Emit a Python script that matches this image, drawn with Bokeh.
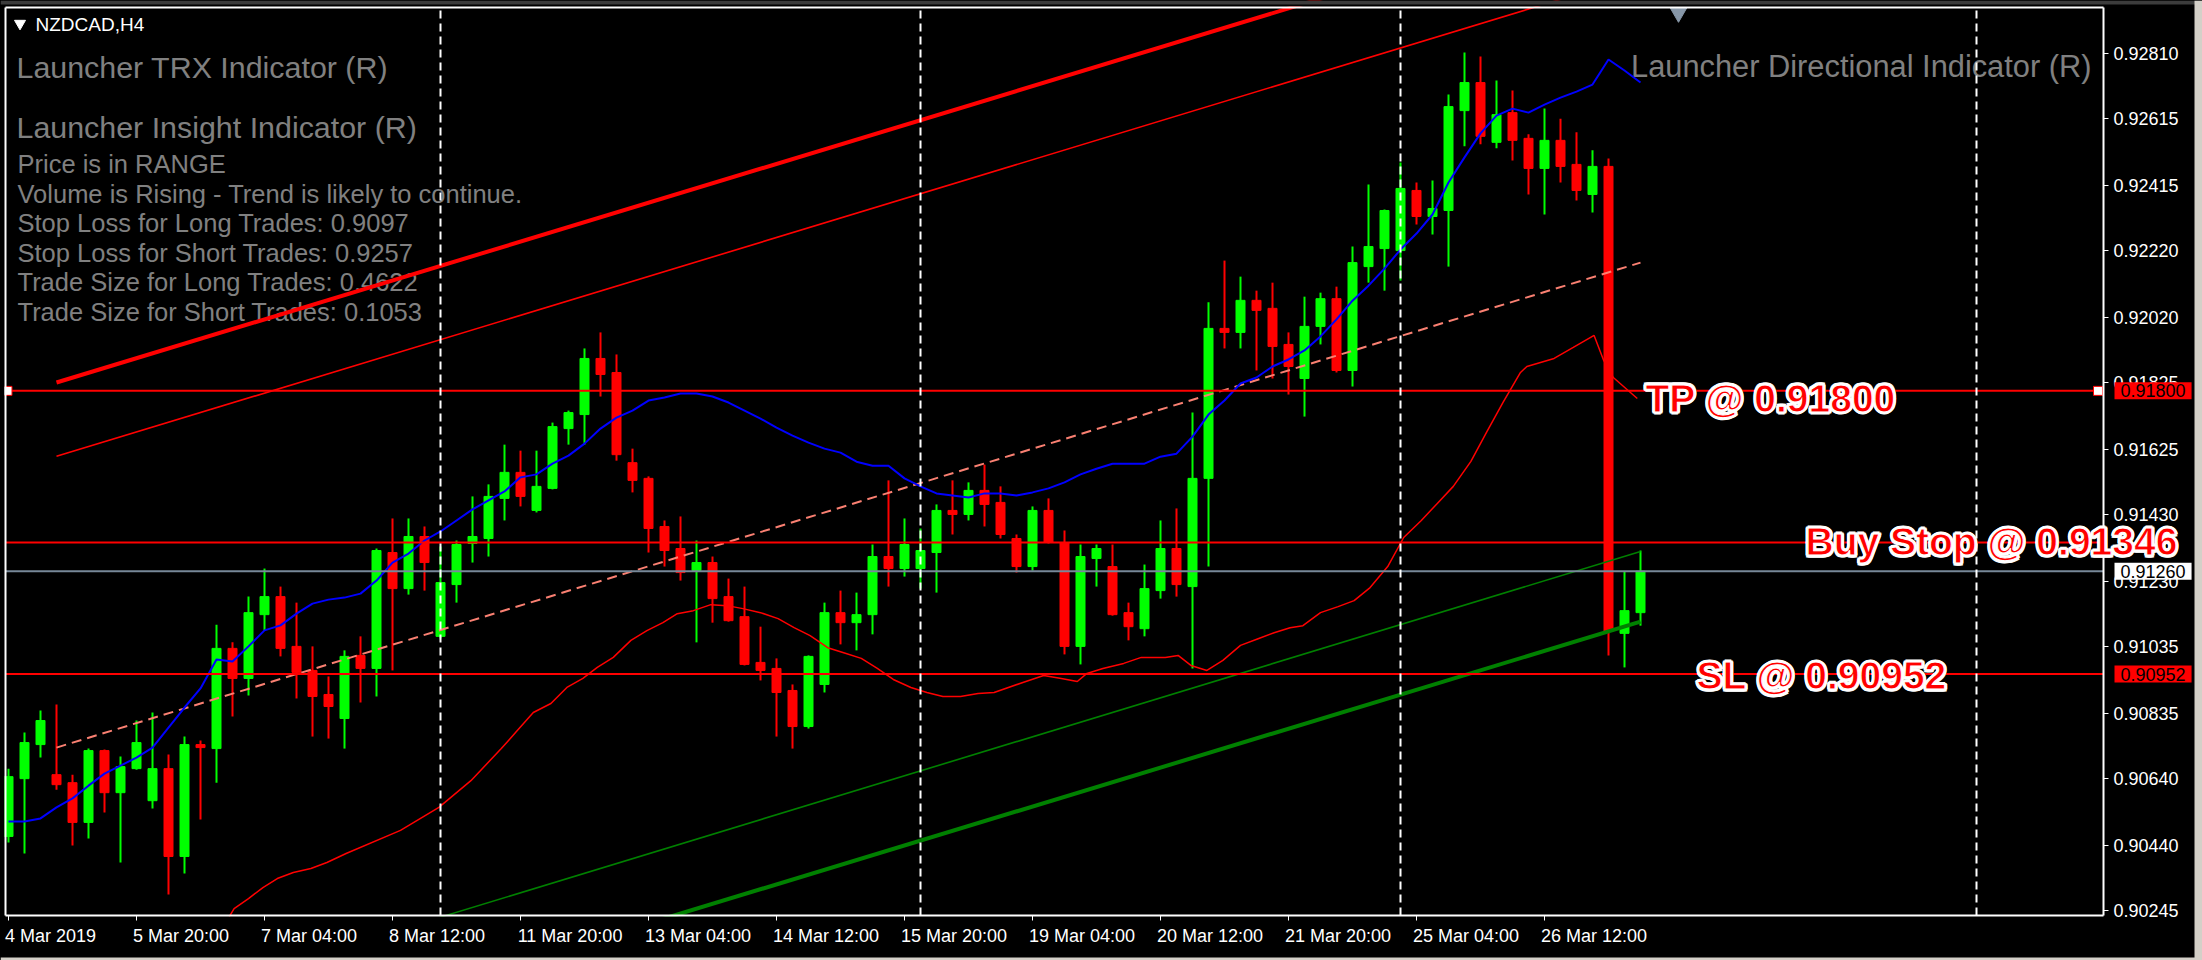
from bokeh.plotting import figure
from bokeh.models import (Range1d, FixedTicker, PrintfTickFormatter, Label, LinearAxis,
                          ColumnDataSource, GlobalInlineStyleSheet)
from bokeh.core.properties import value
from bokeh.embed import file_html
from bokeh.resources import INLINE

# ---------------- data (NZDCAD, H4) ----------------
open_p = [0.90466, 0.90639, 0.90741, 0.90651, 0.90627, 0.90508, 0.90723, 0.90597, 0.90669, 0.90573,
          0.90669, 0.90406, 0.90741, 0.90729, 0.91029, 0.90939, 0.91130, 0.91184, 0.91035, 0.90963,
          0.90891, 0.90819, 0.91008, 0.90969, 0.91316, 0.91208, 0.91364, 0.91065, 0.91220, 0.91343,
          0.91358, 0.91478, 0.91556, 0.91442, 0.91508, 0.91687, 0.91729, 0.91897, 0.91855, 0.91585,
          0.91538, 0.91394, 0.91328, 0.91262, 0.91286, 0.91184, 0.91124, 0.90987, 0.90969, 0.90903,
          0.90795, 0.90921, 0.91136, 0.91106, 0.91130, 0.91304, 0.91268, 0.91268, 0.91316, 0.91442,
          0.91430, 0.91502, 0.91466, 0.91358, 0.91274, 0.91442, 0.91346, 0.91035, 0.91298, 0.91274,
          0.91136, 0.91088, 0.91202, 0.91328, 0.91214, 0.91538, 0.91987, 0.91975, 0.92071, 0.92047,
          0.91939, 0.91837, 0.91993, 0.92076, 0.91861, 0.92172, 0.92226, 0.92220, 0.92400, 0.92322,
          0.92340, 0.92639, 0.92723, 0.92544, 0.92633, 0.92556, 0.92466, 0.92550, 0.92478, 0.92388,
          0.92472, 0.91074, 0.91136]
high_p = [0.90669, 0.90777, 0.90843, 0.90861, 0.90651, 0.90729, 0.90726, 0.90705, 0.90813, 0.90837,
          0.90711, 0.90765, 0.90753, 0.91100, 0.91047, 0.91184, 0.91268, 0.91214, 0.91166, 0.91035,
          0.90945, 0.91023, 0.91065, 0.91328, 0.91418, 0.91418, 0.91394, 0.91334, 0.91352, 0.91484,
          0.91520, 0.91639, 0.91621, 0.91621, 0.91705, 0.91741, 0.91927, 0.91975, 0.91909, 0.91627,
          0.91544, 0.91412, 0.91424, 0.91352, 0.91304, 0.91238, 0.91214, 0.91094, 0.90999, 0.90921,
          0.91008, 0.91166, 0.91202, 0.91196, 0.91340, 0.91532, 0.91418, 0.91388, 0.91460, 0.91532,
          0.91526, 0.91579, 0.91514, 0.91370, 0.91454, 0.91478, 0.91382, 0.91340, 0.91340, 0.91340,
          0.91166, 0.91280, 0.91412, 0.91448, 0.91735, 0.92065, 0.92190, 0.92142, 0.92100, 0.92124,
          0.91975, 0.92082, 0.92094, 0.92112, 0.92232, 0.92418, 0.92343, 0.92484, 0.92424, 0.92430,
          0.92687, 0.92813, 0.92801, 0.92729, 0.92699, 0.92568, 0.92645, 0.92615, 0.92574, 0.92520,
          0.92496, 0.91259, 0.91322]
low_p = [0.90448, 0.90415, 0.90702, 0.90606, 0.90439, 0.90460, 0.90538, 0.90388, 0.90666, 0.90550,
         0.90292, 0.90355, 0.90517, 0.90627, 0.90825, 0.90888, 0.91082, 0.91005, 0.90879, 0.90765,
         0.90759, 0.90729, 0.90867, 0.90885, 0.90963, 0.91190, 0.91202, 0.91059, 0.91166, 0.91286,
         0.91304, 0.91412, 0.91454, 0.91436, 0.91505, 0.91639, 0.91639, 0.91783, 0.91591, 0.91496,
         0.91316, 0.91274, 0.91232, 0.91047, 0.91106, 0.91109, 0.90978, 0.90933, 0.90765, 0.90729,
         0.90789, 0.90897, 0.91041, 0.91023, 0.91071, 0.91214, 0.91244, 0.91208, 0.91196, 0.91370,
         0.91412, 0.91394, 0.91358, 0.91256, 0.91262, 0.91343, 0.91011, 0.90981, 0.91214, 0.91127,
         0.91053, 0.91065, 0.91178, 0.91184, 0.90969, 0.91274, 0.91927, 0.91927, 0.91861, 0.91837,
         0.91789, 0.91723, 0.91939, 0.91855, 0.91813, 0.92124, 0.92100, 0.92130, 0.92298, 0.92268,
         0.92172, 0.92532, 0.92538, 0.92526, 0.92490, 0.92388, 0.92328, 0.92424, 0.92370, 0.92334,
         0.91008, 0.90972, 0.91097]
close_p = [0.90645, 0.90747, 0.90813, 0.90621, 0.90508, 0.90723, 0.90597, 0.90675, 0.90747, 0.90669,
           0.90406, 0.90741, 0.90732, 0.91029, 0.90939, 0.91136, 0.91184, 0.91029, 0.90957, 0.90885,
           0.90855, 0.91005, 0.90969, 0.91322, 0.91208, 0.91364, 0.91286, 0.91226, 0.91340, 0.91364,
           0.91484, 0.91556, 0.91484, 0.91514, 0.91693, 0.91735, 0.91897, 0.91849, 0.91609, 0.91532,
           0.91388, 0.91322, 0.91256, 0.91286, 0.91178, 0.91112, 0.90981, 0.90963, 0.90897, 0.90795,
           0.91005, 0.91136, 0.91106, 0.91130, 0.91304, 0.91268, 0.91340, 0.91322, 0.91442, 0.91430,
           0.91502, 0.91460, 0.91370, 0.91274, 0.91442, 0.91346, 0.91035, 0.91304, 0.91328, 0.91130,
           0.91094, 0.91208, 0.91328, 0.91220, 0.91538, 0.91987, 0.91975, 0.92071, 0.92041, 0.91933,
           0.91873, 0.91993, 0.92076, 0.91861, 0.92184, 0.92232, 0.92340, 0.92406, 0.92322, 0.92346,
           0.92651, 0.92723, 0.92562, 0.92627, 0.92550, 0.92466, 0.92550, 0.92472, 0.92400, 0.92472,
           0.91080, 0.91142, 0.91260]

# blue directional line (one value per bar)
blue_vals = [0.90511, 0.90511, 0.90520, 0.90553, 0.90580, 0.90618, 0.90654, 0.90678, 0.90702, 0.90732,
             0.90792, 0.90852, 0.90909, 0.90996, 0.90990, 0.91035, 0.91083, 0.91098, 0.91133, 0.91163,
             0.91175, 0.91181, 0.91193, 0.91232, 0.91286, 0.91313, 0.91352, 0.91379, 0.91412, 0.91445,
             0.91472, 0.91499, 0.91541, 0.91550, 0.91582, 0.91606, 0.91642, 0.91687, 0.91720, 0.91741,
             0.91771, 0.91780, 0.91792, 0.91792, 0.91783, 0.91765, 0.91741, 0.91717, 0.91690, 0.91666,
             0.91645, 0.91627, 0.91615, 0.91588, 0.91576, 0.91576, 0.91538, 0.91514, 0.91493, 0.91487,
             0.91481, 0.91493, 0.91493, 0.91487, 0.91496, 0.91508, 0.91526, 0.91550, 0.91567, 0.91582,
             0.91582, 0.91582, 0.91603, 0.91612, 0.91663, 0.91729, 0.91771, 0.91822, 0.91840, 0.91873,
             0.91894, 0.91921, 0.91963, 0.92014, 0.92070, 0.92115, 0.92166, 0.92223, 0.92271, 0.92328,
             0.92424, 0.92499, 0.92571, 0.92624, 0.92645, 0.92633, 0.92657, 0.92678, 0.92696, 0.92717,
             0.92792, 0.92759, 0.92723]

# thin red lower curve
red_curve_bars = [13.8, 14.1, 15.0, 15.9, 16.8, 17.8, 18.9, 19.9, 21.1, 24.5, 26.9, 28.9,
                  30.8, 31.8, 32.8, 33.9, 34.9, 35.9, 36.8, 37.8, 38.9, 39.9, 40.9, 41.8,
                  42.8, 43.9, 44.9, 45.9, 47.0, 48.1, 49.1, 50.1, 51.2, 52.2, 53.3, 54.3, 55.3,
                  56.4, 57.4, 58.4, 59.5, 60.6, 61.6,
                  63.4, 64.7, 65.8, 66.8, 67.4, 68.4, 69.7, 70.8, 72.3, 73.1, 73.9, 74.9, 75.9,
                  77.0, 78.1, 79.1, 80.1, 80.9,
                  82.0, 83.1, 84.1, 85.1, 86.2, 87.2, 88.3, 89.3, 90.3, 91.4, 92.4, 93.4, 94.5,
                  94.9, 96.6, 97.8, 99.1, 99.7, 100.3, 101.8]
red_curve_vals = [0.90226, 0.90250, 0.90280, 0.90313, 0.90340, 0.90358, 0.90370, 0.90388, 0.90415,
                  0.90484, 0.90553, 0.90633,
                  0.90729, 0.90783, 0.90837, 0.90864, 0.90912, 0.90939, 0.90972, 0.91002, 0.91053,
                  0.91082, 0.91106, 0.91133,
                  0.91142, 0.91160, 0.91157, 0.91148, 0.91136, 0.91118, 0.91091, 0.91067, 0.91031,
                  0.91016, 0.90999, 0.90969, 0.90936, 0.90912, 0.90897, 0.90885, 0.90885, 0.90894,
                  0.90897,
                  0.90927, 0.90948, 0.90939, 0.90930, 0.90954, 0.90969, 0.90984, 0.91002, 0.91002,
                  0.91008, 0.90978, 0.90963, 0.90993, 0.91038, 0.91058, 0.91076, 0.91091, 0.91097,
                  0.91136, 0.91154, 0.91172, 0.91211, 0.91274, 0.91361, 0.91412, 0.91463, 0.91514,
                  0.91589, 0.91678, 0.91765, 0.91855, 0.91873, 0.91897, 0.91930, 0.91966, 0.91891,
                  0.91840, 0.91777]

# regression channel (start bar, end bar)
channel_bars = [3, 102]
channel_mid = [0.90732, 0.92184]
channel_upper_outer = [0.91825, 0.93265]
channel_upper_inner = [0.91604, 0.93045]
channel_lower_inner = [0.89874, 0.91319]
channel_lower_outer = [0.89667, 0.91109]

separator_bars = [27, 57, 87, 123]
tp_level = 0.91800
buy_stop_level = 0.91346
sl_level = 0.90952
bid_level = 0.91260

date_tick_bars = [0, 8, 16, 24, 32, 40, 48, 56, 64, 72, 80, 88, 96]
date_labels = ["4 Mar 2019", "5 Mar 20:00", "7 Mar 04:00", "8 Mar 12:00", "11 Mar 20:00",
               "13 Mar 04:00", "14 Mar 12:00", "15 Mar 20:00", "19 Mar 04:00", "20 Mar 12:00",
               "21 Mar 20:00", "25 Mar 04:00", "26 Mar 12:00"]
price_ticks = [0.90245, 0.90440, 0.90640, 0.90835, 0.91035, 0.91230, 0.91430, 0.91625,
               0.91825, 0.92020, 0.92220, 0.92415, 0.92615, 0.92810]

info_lines = ["Price is in RANGE",
              "Volume is Rising - Trend is likely to continue.",
              "Stop Loss for Long Trades: 0.9097",
              "Stop Loss for Short Trades: 0.9257",
              "Trade Size for Long Trades: 0.4622",
              "Trade Size for Short Trades: 0.1053"]

# ---------------- geometry (page pixels -> data) ----------------
W, H = 2202, 960
BAR_PX = 16.0
PX = 0.000029939          # price per pixel
P_AT_TOP = 0.929687       # price at page y = 0


def bx(px):  # page x pixel -> bar units
    return (px - 8) / BAR_PX


def py(px):  # page y pixel -> price units
    return P_AT_TOP - px * PX


X0, X1 = bx(0), bx(W)
Y0, Y1 = py(H), py(0)
XL, XR = bx(5), bx(2103)      # chart frame (left / right)
YT, YB = py(7), py(915)       # chart frame (top / bottom)
FONT = "Liberation Sans"
GRAY = "#808080"

p = figure(width=W, height=H, x_range=Range1d(X0, X1), y_range=Range1d(Y0, Y1),
           output_backend="svg", toolbar_location=None,
           x_axis_location=None, y_axis_location=None,
           background_fill_color="black", border_fill_color="black", min_border=0)
p.outline_line_color = None
p.grid.visible = False

try:
    p.stylesheets = [GlobalInlineStyleSheet(css="html, body { background: #000000; }")]
except Exception:
    pass

# ---- info texts (drawn first so lines pass over them) ----
p.text(x=[bx(16)], y=[py(66.5)], text=["Launcher TRX Indicator (R)"], text_color=GRAY,
       text_font=value(FONT), text_font_size="30.4px", text_baseline="middle", text_align="left")
p.text(x=[bx(16)], y=[py(126)], text=["Launcher Insight Indicator (R)"], text_color=GRAY,
       text_font=value(FONT), text_font_size="30.4px", text_baseline="middle", text_align="left")
line_px = [163.5, 193, 222.5, 252, 281.5, 311]
p.text(x=[bx(17)] * len(info_lines), y=[py(v) for v in line_px], text=info_lines,
       text_color=GRAY, text_font=value(FONT), text_font_size="25.5px",
       text_baseline="middle", text_align="left")
p.text(x=[bx(2091)], y=[py(66)], text=["Launcher Directional Indicator (R)"], text_color=GRAY,
       text_font=value(FONT), text_font_size="30.8px", text_baseline="middle", text_align="right")
p.text(x=[bx(35)], y=[py(23.5)], text=["NZDCAD,H4"], text_color="white",
       text_font=value(FONT), text_font_size="19px", text_baseline="middle", text_align="left")
p.scatter(x=[bx(19.5)], y=[py(23)], marker="inverted_triangle", size=11,
          fill_color="white", line_color="white")

# ---- candles ----
bars = list(range(len(open_p)))
colors = ["#00ff00" if c >= o else "#ff0000" for o, c in zip(open_p, close_p)]
src = ColumnDataSource(dict(x=bars, o=open_p, h=high_p, l=low_p, c=close_p,
                            top=[max(o, c) for o, c in zip(open_p, close_p)],
                            bottom=[min(o, c) for o, c in zip(open_p, close_p)],
                            color=colors))
p.segment(x0="x", y0="l", x1="x", y1="h", source=src, line_color="color", line_width=2)
p.vbar(x="x", width=9 / BAR_PX, top="top", bottom="bottom", source=src,
       fill_color="color", line_color="color", line_width=1)

# ---- indicator lines ----
p.line(channel_bars, channel_upper_outer, line_color="#ff0000", line_width=4)
p.line(channel_bars, channel_upper_inner, line_color="#ff0000", line_width=1.6)
p.line(channel_bars, channel_mid, line_color="#fa8072", line_width=2, line_dash="10 6")
p.line(channel_bars, channel_lower_inner, line_color="#008000", line_width=1.6)
p.line(channel_bars, channel_lower_outer, line_color="#008000", line_width=4)
p.line(red_curve_bars, red_curve_vals, line_color="#ff0000", line_width=1.5)
p.line(bars, blue_vals, line_color="#0000ff", line_width=2)

# ---- level lines & period separators ----
levels = [tp_level, buy_stop_level, sl_level]
p.segment(x0=[XL] * 3, y0=levels, x1=[XR] * 3, y1=levels, line_color="#ff0000", line_width=2)
p.segment(x0=[XL], y0=[bid_level], x1=[XR], y1=[bid_level], line_color="#778899", line_width=2)
p.segment(x0=separator_bars, y0=[YB] * len(separator_bars), x1=separator_bars,
          y1=[YT] * len(separator_bars), line_color="white", line_width=2, line_dash="8 5")
p.scatter(x=[bx(7), bx(2097.5)], y=[tp_level, tp_level], marker="square", size=9,
          fill_color="white", line_color="#ff0000", line_width=1)
p.scatter(x=[bx(1678)], y=[py(12)], marker="inverted_triangle", size=17,
          fill_color="#8797a8", line_color="#8797a8")

# ---- masks outside the chart frame (axis areas / window edges) ----
p.quad(left=[bx(2104)], right=[X1], bottom=[Y0], top=[Y1], fill_color="black", line_color=None)
p.quad(left=[X0], right=[X1], bottom=[Y0], top=[py(916)], fill_color="black", line_color=None)
p.quad(left=[X0], right=[bx(4)], bottom=[Y0], top=[Y1], fill_color="black", line_color=None)
p.quad(left=[X0], right=[X1], bottom=[py(6)], top=[Y1], fill_color="black", line_color=None)
p.quad(left=[X0], right=[X1], bottom=[py(4)], top=[Y1], fill_color="#3c3c3c", line_color=None)
p.quad(left=[bx(2194)], right=[X1], bottom=[Y0], top=[Y1], fill_color="#d4d0c8", line_color=None)
p.quad(left=[X0], right=[X1], bottom=[Y0], top=[py(957)], fill_color="#d4d0c8", line_color=None)

# frame top / left border
p.segment(x0=[XL], y0=[YT], x1=[XR], y1=[YT], line_color="white", line_width=2)
p.segment(x0=[XL], y0=[YB], x1=[XL], y1=[YT], line_color="white", line_width=2)

# ---- axes (fixed at the frame edges) ----
yax = LinearAxis(fixed_location=XR, bounds=(YB, YT), ticker=FixedTicker(ticks=price_ticks),
                 formatter=PrintfTickFormatter(format="%.5f"),
                 axis_line_color="white", axis_line_width=2,
                 major_tick_line_color="white", major_tick_out=5, major_tick_in=0,
                 minor_tick_line_color=None, major_label_standoff=5,
                 major_label_text_color="white", major_label_text_font=FONT,
                 major_label_text_font_size="18px")
p.add_layout(yax, "right")

xtick_ax = LinearAxis(fixed_location=YB, bounds=(XL, XR), ticker=FixedTicker(ticks=date_tick_bars),
                      axis_line_color="white", axis_line_width=2,
                      major_tick_line_color="white", major_tick_out=5, major_tick_in=0,
                      minor_tick_line_color=None, major_label_text_color=None)
p.add_layout(xtick_ax, "below")

# date labels start just left of their tick (MT4 style): centre = tick - 3.5px + width/2
ARIAL_W = {" ": 0.278, ":": 0.278, "M": 0.833, "a": 0.556, "r": 0.333}
label_pos = []
for b, t in zip(date_tick_bars, date_labels):
    w_px = sum(ARIAL_W.get(ch, 0.556) for ch in t) * 18
    label_pos.append(round(b + (w_px / 2 - 3.5) / BAR_PX, 4))
xlab_ax = LinearAxis(fixed_location=YB, ticker=FixedTicker(ticks=label_pos),
                     major_label_overrides=dict(zip(label_pos, date_labels)),
                     axis_line_color=None, major_tick_line_color=None,
                     major_tick_out=0, major_tick_in=0, minor_tick_line_color=None,
                     major_label_standoff=10, major_label_text_color="white",
                     major_label_text_font=FONT, major_label_text_font_size="18px")
p.add_layout(xlab_ax, "below")


# ---- price boxes on the axis ----
def price_box(level, bg, fg):
    kw = dict(x=bx(2114), y=level, text="%.5f" % level, text_align="left",
              text_baseline="middle", text_color=fg, text_font=FONT,
              text_font_size="18px", background_fill_color=bg)
    try:
        lab = Label(padding=dict(left=6, right=6, top=2, bottom=2), **kw)
    except Exception:
        lab = Label(padding=3, **kw)
    p.add_layout(lab)


price_box(tp_level, "#ff0000", "black")
price_box(sl_level, "#ff0000", "black")
price_box(bid_level, "white", "black")

# ---- big order labels (red with a thick white halo) ----
outline_ok = "text_outline_color" in Label.properties()


def big_label(xp, yp, text):
    kw = dict(x=bx(xp), y=py(yp), text=text, text_font=FONT,
              text_font_style="bold", text_font_size="39px", text_align="left",
              text_baseline="middle")
    halo = dict(kw, text_color="white")
    if outline_ok:
        halo["text_outline_color"] = "white"
    for dx, dy in [(-2, 0), (2, 0), (0, -2), (0, 2), (-1.5, -1.5), (1.5, 1.5), (-1.5, 1.5), (1.5, -1.5)]:
        p.add_layout(Label(x_offset=dx, y_offset=dy, **halo))
    main = dict(kw, text_color="#ff0000")
    if outline_ok:
        main["text_outline_color"] = "white"
    p.add_layout(Label(**main))


big_label(1645, 397.5, "TP @ 0.91800")
big_label(1805, 541, "Buy Stop @ 0.91346")
big_label(1696, 675, "SL @ 0.90952")

open("out.html", "w").write(file_html(p, INLINE))
